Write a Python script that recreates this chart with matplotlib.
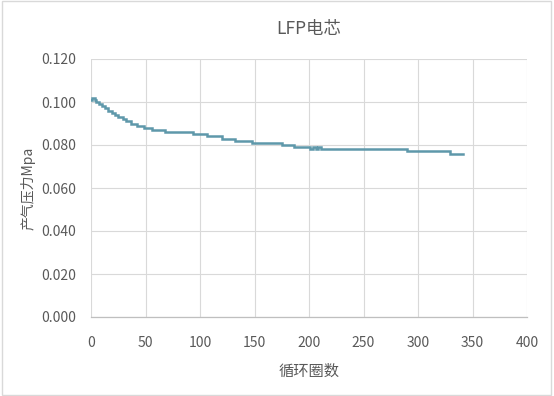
import matplotlib
matplotlib.use('Agg')
import matplotlib.pyplot as plt
from matplotlib.patches import Rectangle

plt.rcParams['font.family'] = ['Noto Sans CJK SC', 'DejaVu Sans']

# 循环圈数 / 产气压力 (读图估计, 阶梯变化点)
cycles = [0, 1, 4, 5, 7, 10, 13, 16, 19, 22, 25, 29, 32, 37, 42, 49, 56, 68,
          94, 106, 120, 132, 148, 175, 186, 201, 204, 206, 208, 211, 290, 329, 341]
pressure = [0.101, 0.102, 0.101, 0.100, 0.099, 0.098, 0.097, 0.096, 0.095, 0.094,
            0.093, 0.092, 0.091, 0.090, 0.089, 0.088, 0.087, 0.086, 0.085, 0.084,
            0.083, 0.082, 0.081, 0.080, 0.079, 0.078, 0.079, 0.078, 0.079, 0.078,
            0.077, 0.076, 0.076]

x_ticks = [0, 50, 100, 150, 200, 250, 300, 350, 400]
y_ticks = [0.0, 0.02, 0.04, 0.06, 0.08, 0.10, 0.12]

fig = plt.figure(figsize=(5.54, 3.96), dpi=100, facecolor='white')
ax = fig.add_axes([91 / 554, 1 - 317 / 396, 436 / 554, 258 / 396])

ax.plot(cycles, pressure, drawstyle='steps-post', color='#5E98AA', lw=1.8,
        solid_joinstyle='miter')

ax.set_xlim(0, 400)
ax.set_ylim(0, 0.12)
ax.set_xticks(x_ticks)
ax.set_yticks(y_ticks)
ax.set_yticklabels([f'{v:.3f}' for v in y_ticks])

ax.grid(True, color='#D9D9D9', lw=0.8)
ax.set_axisbelow(True)
for s in ['top', 'right', 'left']:
    ax.spines[s].set_visible(False)
ax.spines['bottom'].set_color('#BFBFBF')
ax.spines['bottom'].set_linewidth(0.9)

ax.tick_params(length=0, labelsize=10, labelcolor='#595959')
ax.tick_params(axis='x', pad=14)
ax.tick_params(axis='y', pad=11)

ax.set_title('LFP电芯', fontsize=12.5, color='#595959', pad=18)
ax.set_xlabel('循环圈数', fontsize=11, color='#595959', labelpad=9)
ax.set_ylabel('产气压力Mpa', fontsize=10, color='#595959', labelpad=4)

# 外框
fig.patches.append(Rectangle((0.004, 0.003), 0.99, 0.994, transform=fig.transFigure,
                             fill=False, edgecolor='#D9D9D9', lw=1))

plt.savefig('out.png', dpi=100)
